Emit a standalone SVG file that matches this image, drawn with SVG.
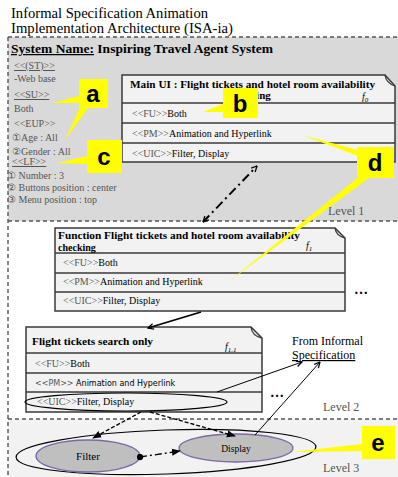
<svg xmlns="http://www.w3.org/2000/svg" width="398" height="477" viewBox="0 0 398 477">
<defs>
<style>
.t{font-family:"Liberation Serif","Times New Roman",serif;fill:#000}
.g{fill:#555}
.b{font-weight:bold}
.box{fill:#f2f2f2;stroke:#3a3a3a;stroke-width:1.5}
.row{stroke:#3a3a3a;stroke-width:1.3;fill:none}
.dash{stroke:#555;stroke-width:1.4;stroke-dasharray:4 3;fill:none}
.cl{fill:#ffff00}
.cl text{font-family:"Liberation Sans",Arial,sans-serif;font-weight:bold;font-size:24px;fill:#000;text-anchor:middle}
.ln{stroke:#000;fill:none}
</style>
<marker id="ah" viewBox="0 0 10 10" refX="9" refY="5" markerWidth="7" markerHeight="7" orient="auto-start-reverse" markerUnits="userSpaceOnUse">
<path d="M1,1 L9,5 L1,9" fill="none" stroke="#000" stroke-width="1.8"/>
</marker>
<marker id="ahs" viewBox="0 0 10 10" refX="9" refY="5" markerWidth="9" markerHeight="9" orient="auto-start-reverse" markerUnits="userSpaceOnUse">
<path d="M0,1 L10,5 L0,9 Z" fill="#000"/>
</marker>
<marker id="dot" viewBox="0 0 10 10" refX="5" refY="5" markerWidth="7" markerHeight="7" markerUnits="userSpaceOnUse">
<circle cx="5" cy="5" r="4.5" fill="#000"/>
</marker>
</defs>

<!-- background bands -->
<rect x="0" y="0" width="398" height="477" fill="#fff"/>
<rect x="8" y="37" width="390" height="184" fill="#d9d9d9"/>
<rect x="8" y="419" width="390" height="58" fill="#f2f2f2"/>
<g id="frame">
<line class="dash" x1="8" y1="37" x2="398" y2="37"/>
<line class="dash" x1="8" y1="221" x2="398" y2="221"/>
<line class="dash" x1="8" y1="419" x2="398" y2="419"/>
<line class="dash" x1="8" y1="37" x2="8" y2="477"/>
</g>

<!-- title -->
<g id="title" class="t" font-size="14">
<text x="11" y="18" textLength="197" lengthAdjust="spacingAndGlyphs">Informal Specification Animation</text>
<text x="11" y="33" textLength="222" lengthAdjust="spacingAndGlyphs">Implementation Architecture (ISA-ia)</text>
</g>
<g id="system-name" class="t b" font-size="12.5">
<text x="11" y="53" textLength="262" lengthAdjust="spacingAndGlyphs"><tspan text-decoration="underline">System  Name:</tspan> Inspiring Travel Agent System</text>
</g>

<!-- left attributes -->
<g id="attributes" class="t g" font-size="10">
<text x="14" y="69" text-decoration="underline">&lt;&lt;(ST)&gt;&gt;</text>
<text x="14" y="82">-Web base</text>
<text x="14" y="98" text-decoration="underline">&lt;&lt;SU&gt;&gt;</text>
<text x="14" y="112">Both</text>
<text x="14" y="127">&lt;&lt;EUP&gt;&gt;</text>
<text x="12" y="141">①Age : All</text>
<text x="12" y="155">②Gender : All</text>
<text x="12" y="165" text-decoration="underline">&lt;&lt;LF&gt;&gt;</text>
<text x="7" y="179">①  Number : 3</text>
<text x="7" y="191">②  Buttons position : center</text>
<text x="7" y="203">③  Menu position : top</text>
</g>

<!-- Main UI node -->
<g id="main-ui">
<path class="box" d="M122,75 H385 L395,86 V162 H122 Z"/>
<path class="row" d="M385,75 Q386,83 395,86"/>
<line class="row" x1="122" y1="103" x2="395" y2="103"/>
<line class="row" x1="122" y1="123" x2="395" y2="123"/>
<line class="row" x1="122" y1="143" x2="395" y2="143"/>
<text class="t b" font-size="11" x="130" y="88" textLength="245" lengthAdjust="spacingAndGlyphs">Main UI : Flight tickets and hotel room availability</text>
<text class="t b" font-size="11" x="250" y="99" text-anchor="middle">checking</text>
<text class="t" font-size="10" font-style="italic" x="362" y="100">f<tspan font-size="7" dy="2">0</tspan></text>
<text class="t" font-size="10" x="132" y="117"><tspan class="g">&lt;&lt;FU&gt;&gt;</tspan>Both</text>
<text class="t" font-size="10" x="132" y="137"><tspan class="g">&lt;&lt;PM&gt;&gt;</tspan>Animation and Hyperlink</text>
<text class="t" font-size="10" x="132" y="157"><tspan class="g">&lt;&lt;UIC&gt;&gt;</tspan>Filter, Display</text>
</g>

<!-- Function node -->
<g id="function">
<path class="box" d="M55,228 H335 L345,238 V311 H55 Z"/>
<path class="row" d="M335,228 Q336,236 345,238"/>
<line class="row" x1="55" y1="253" x2="345" y2="253"/>
<line class="row" x1="55" y1="273" x2="345" y2="273"/>
<line class="row" x1="55" y1="292" x2="345" y2="292"/>
<text class="t b" font-size="10" x="58" y="239" textLength="242" lengthAdjust="spacingAndGlyphs">Function Flight tickets and hotel room availability</text>
<text class="t b" font-size="10" x="58" y="251">checking</text>
<text class="t" font-size="10" font-style="italic" x="306" y="249">f<tspan font-size="7" dy="2">1</tspan></text>
<text class="t" font-size="10" x="63" y="266"><tspan class="g">&lt;&lt;FU&gt;&gt;</tspan>Both</text>
<text class="t" font-size="10" x="63" y="285"><tspan class="g">&lt;&lt;PM&gt;&gt;</tspan>Animation and Hyperlink</text>
<text class="t" font-size="10" x="63" y="304"><tspan class="g">&lt;&lt;UIC&gt;&gt;</tspan>Filter, Display</text>
</g>
<text class="t b" font-size="14" x="354" y="294">…</text>

<!-- Flight tickets search node -->
<g id="flight-search">
<path class="box" d="M26,327 H251 L262,338 V412 H26 Z"/>
<path class="row" d="M251,327 Q252,336 262,338"/>
<line class="row" x1="26" y1="353" x2="262" y2="353"/>
<line class="row" x1="26" y1="373" x2="262" y2="373"/>
<line class="row" x1="26" y1="392" x2="262" y2="392"/>
<text class="t b" font-size="10.5" x="32" y="345" textLength="121" lengthAdjust="spacingAndGlyphs">Flight tickets search only</text>
<text class="t" font-size="10" font-style="italic" x="225" y="350">f<tspan font-size="7" dy="2">1.1</tspan></text>
<text class="t" font-size="10" x="35" y="367"><tspan class="g">&lt;&lt;FU&gt;&gt;</tspan>Both</text>
<text font-family="'DejaVu Sans',sans-serif" font-size="8" x="35" y="386" fill="#000"><tspan fill="#555">&lt;&lt;PM&gt;&gt;</tspan> Animation and Hyperlink</text>
<text class="t" font-size="10" x="37" y="405"><tspan class="g">&lt;&lt;UIC&gt;&gt;</tspan>Filter, Display</text>
<ellipse cx="126" cy="402" rx="101" ry="9" fill="none" stroke="#000" stroke-width="1.2"/>
</g>
<text class="t b" font-size="14" x="270" y="397">…</text>

<g id="informal-spec" class="t" font-size="12">
<text x="292" y="345">From Informal</text>
<text x="292" y="359" text-decoration="underline">Specification</text>
</g>

<!-- Level 3 -->
<g id="level3-group">
<ellipse cx="166" cy="452" rx="150" ry="22" transform="rotate(-2 166 452)" fill="none" stroke="#000" stroke-width="1.2"/>
</g>
<g id="filter">
<ellipse cx="88" cy="456" rx="52" ry="16" fill="#bfbfbf" stroke="#7b6aa3" stroke-width="1.3"/>
<text class="t" font-size="11" x="88" y="460" text-anchor="middle">Filter</text>
</g>
<g id="display">
<ellipse cx="236" cy="448" rx="57" ry="14" fill="#bfbfbf" stroke="#7b6aa3" stroke-width="1.3"/>
<text class="t" font-size="9.5" x="236" y="452" text-anchor="middle">Display</text>
</g>

<!-- level labels -->
<g id="levels" class="t g" font-size="12">
<text x="328" y="215">Level 1</text>
<text x="323" y="411">Level 2</text>
<text x="323" y="472">Level 3</text>
</g>

<!-- connectors -->
<g id="connectors">
<line class="ln" x1="203" y1="222" x2="257" y2="166" stroke-width="2" stroke-dasharray="9 4 2 4" marker-start="url(#ah)" marker-end="url(#ah)"/>
<line class="ln" x1="201" y1="312" x2="148" y2="328" stroke-width="1.8" marker-end="url(#ah)"/>
<line class="ln" x1="141" y1="412" x2="93" y2="438" stroke-width="1.3" stroke-dasharray="4 2" marker-end="url(#ahs)"/>
<line class="ln" x1="150" y1="412" x2="235" y2="436" stroke-width="1.3" stroke-dasharray="4 2" marker-end="url(#ahs)"/>
<line class="ln" x1="140" y1="457" x2="180" y2="451" stroke-width="1.3" stroke-dasharray="7 3 2 3" marker-start="url(#dot)" marker-end="url(#ahs)"/>
<line class="ln" x1="217" y1="392" x2="302" y2="362" stroke-width="1" marker-end="url(#ah)"/>
<line class="ln" x1="255" y1="435" x2="320" y2="362" stroke-width="1" marker-end="url(#ah)"/>
</g>

<!-- callouts -->
<g id="callout-a" class="cl">
<path d="M79,96 L52,103 L79,103 Z"/>
<path d="M80,107 L65,140 L88,108 Z"/>
<rect x="79" y="79" width="29" height="29"/>
<text x="93" y="102">a</text>
</g>
<g id="callout-b" class="cl">
<path d="M223,104 L203,112 L223,112 Z"/>
<rect x="223" y="88" width="35" height="30"/>
<text x="240" y="112">b</text>
</g>
<g id="callout-c" class="cl">
<path d="M87,156 L57,163 L87,164 Z"/>
<rect x="87" y="140" width="35" height="33"/>
<text x="104" y="165">c</text>
</g>
<g id="callout-d" class="cl">
<path d="M358,150 L302,135 L358,156 Z"/>
<path d="M360,176 L228,282 L369,178 Z"/>
<rect x="357" y="147" width="37" height="31"/>
<text x="375" y="171">d</text>
</g>
<g id="callout-e" class="cl">
<path d="M362,444 L292,452 L362,451 Z"/>
<rect x="362" y="426" width="33" height="33"/>
<text x="378" y="451">e</text>
</g>
</svg>
